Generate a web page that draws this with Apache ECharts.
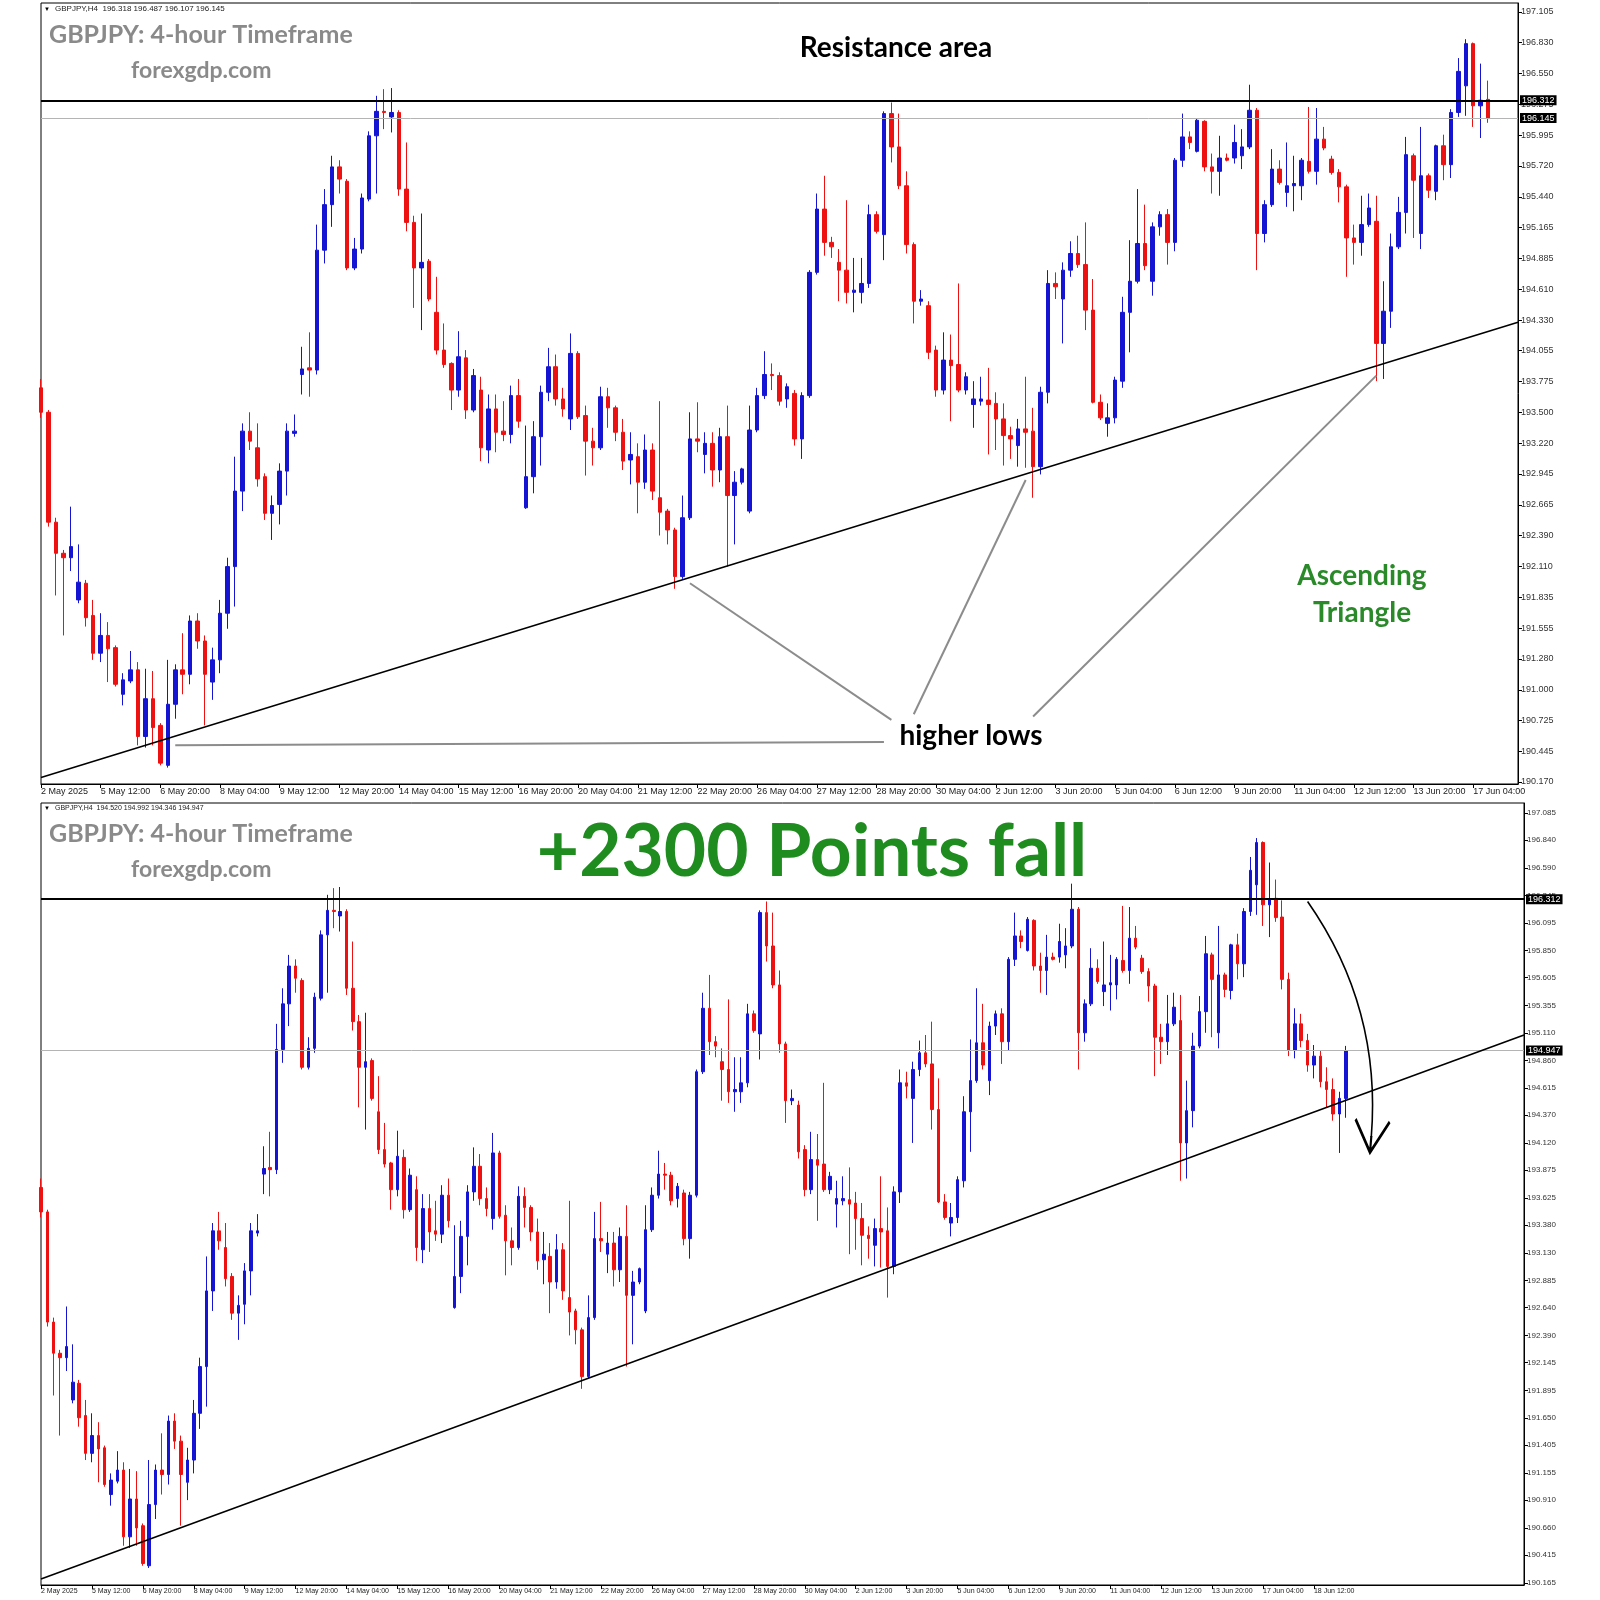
<!DOCTYPE html>
<html><head><meta charset="utf-8">
<script src="https://cdn.jsdelivr.net/npm/echarts@6/dist/echarts.min.js"></script>
<style>html,body{margin:0;padding:0;background:#fff}#c{width:1600px;height:1600px}</style>
</head><body><div id="c"></div>
<script>
// ---- GBPJPY H4 candles (index 0 = 2 May 2025) ----
const opens = [
193.72,193.50,192.51,192.23,192.19,191.81,191.96,191.67,191.33,191.49,
191.38,190.96,191.08,191.18,190.58,190.92,190.68,190.32,190.87,191.18,
191.14,191.62,191.44,191.07,191.27,191.69,192.11,192.79,193.33,193.18,
192.92,192.59,192.67,192.97,193.31,193.84,193.90,193.88,194.96,195.37,
195.71,195.58,194.80,194.97,195.42,195.99,196.21,196.16,196.20,195.51,
195.21,194.80,194.86,194.40,194.06,193.94,193.70,193.99,193.52,193.70,
193.16,193.53,193.33,193.30,193.65,192.64,192.92,193.28,193.68,193.91,
193.62,193.44,194.03,193.47,193.24,193.18,193.64,193.54,193.32,193.07,
193.10,192.87,193.16,192.73,192.61,192.44,192.02,192.55,193.26,193.12,
193.22,192.98,193.28,192.75,192.87,192.61,193.34,193.65,193.84,193.83,
193.62,193.67,193.26,193.65,194.76,195.33,195.03,194.85,194.78,194.58,
194.58,194.66,195.28,195.10,196.19,195.89,195.54,195.01,194.50,194.46,
194.06,193.70,193.97,193.93,193.70,193.57,193.60,193.61,193.58,193.44,
193.29,193.20,193.35,193.33,193.01,193.68,194.66,194.52,194.78,194.93,
194.83,194.42,193.59,193.40,193.45,193.78,194.40,194.68,195.02,194.68,
195.17,195.28,195.03,195.77,195.98,195.85,196.12,195.71,195.67,195.79,
195.79,195.81,195.89,196.22,195.11,195.37,195.69,195.48,195.54,195.54,
195.76,195.67,195.96,195.78,195.66,195.53,195.07,195.03,195.19,195.22,
194.12,194.41,194.99,195.30,195.81,195.11,195.63,195.49,195.90,195.73,
196.20,196.44,196.82,196.26,196.318,196.15,195.59,194.95,195.19,195.04,
194.82,194.90,194.67,194.60,194.38,194.520];
const closes = [
193.50,192.51,192.23,192.19,192.29,191.97,191.65,191.33,191.49,191.37,
191.05,191.09,191.18,190.58,190.92,190.66,190.34,190.87,191.18,191.14,
191.62,191.44,191.14,191.27,191.69,192.11,192.79,193.33,193.24,192.90,
192.59,192.66,192.97,193.33,193.33,193.89,193.88,194.96,195.37,195.71,
195.60,194.80,194.97,195.43,195.99,196.21,196.20,196.20,195.51,195.21,
194.80,194.85,194.52,194.06,193.93,193.70,194.00,193.52,193.83,193.18,
193.53,193.32,193.30,193.65,193.42,192.92,193.28,193.68,193.91,193.62,
193.53,194.03,193.46,193.24,193.18,193.64,193.54,193.32,193.06,193.12,
192.87,193.16,192.79,192.60,192.44,192.02,192.55,193.26,193.24,193.22,
192.98,193.28,192.75,192.87,192.99,193.34,193.65,193.84,193.83,193.60,
193.73,193.26,193.65,194.76,195.33,195.03,194.99,194.78,194.58,194.60,
194.66,195.28,195.13,196.19,195.89,195.54,195.01,194.50,194.52,194.04,
193.70,193.97,193.92,193.70,193.82,193.62,193.62,193.57,193.44,193.29,
193.26,193.35,193.32,193.01,193.68,194.66,194.63,194.78,194.93,194.83,
194.42,193.59,193.45,193.45,193.79,194.40,194.68,195.02,194.82,195.17,
195.28,195.03,195.77,195.98,195.93,196.13,195.71,195.67,195.79,195.77,
195.93,195.89,196.22,195.11,195.37,195.69,195.57,195.54,195.56,195.77,
195.67,195.96,195.88,195.66,195.53,195.07,195.03,195.19,195.34,194.12,
194.41,194.99,195.30,195.82,195.59,195.63,195.50,195.90,195.73,196.20,
196.57,196.82,196.26,196.31,196.145,195.59,194.95,195.19,195.04,194.82,
194.90,194.67,194.60,194.38,194.52,194.947];
const lows = [
193.45,192.47,191.85,191.49,192.07,191.78,191.57,191.27,191.25,191.07,
191.03,190.86,191.06,190.50,190.48,190.50,190.32,190.30,190.74,190.96,
191.05,191.37,190.68,190.91,191.15,191.55,191.75,192.61,193.16,192.83,
192.53,192.35,192.49,192.75,193.28,193.66,193.64,193.84,194.84,195.17,
195.47,194.78,194.78,194.93,195.40,195.47,196.05,196.02,195.45,195.13,
194.44,194.24,194.50,194.02,193.90,193.52,193.64,193.44,193.50,193.06,
193.04,193.14,193.24,193.22,193.36,192.63,192.77,193.02,193.60,193.56,
193.46,193.34,193.44,192.93,193.02,193.16,193.36,193.24,192.98,192.85,
192.59,192.81,192.71,192.39,192.31,191.91,192.00,192.53,193.14,192.95,
192.83,192.87,192.11,192.31,192.85,192.59,193.32,193.62,193.70,193.56,
193.54,193.20,193.08,193.63,194.74,194.91,194.89,194.50,194.48,194.40,
194.48,194.62,195.11,194.87,195.75,195.51,194.93,194.30,194.46,193.98,
193.64,193.66,193.42,193.68,193.66,193.36,193.56,193.12,193.16,193.02,
193.08,193.01,193.00,192.73,192.94,193.58,194.52,194.12,194.72,194.80,
194.24,193.58,193.43,193.28,193.40,193.72,194.04,194.66,194.78,194.55,
195.09,194.83,194.95,195.71,195.87,195.84,195.67,195.47,195.45,195.76,
195.74,195.69,195.87,194.78,195.03,195.35,195.55,195.35,195.31,195.41,
195.65,195.55,195.86,195.64,195.39,194.72,194.83,194.91,195.17,193.78,
193.80,194.26,194.97,195.11,195.07,194.97,195.43,195.41,195.59,195.61,
196.16,196.17,196.07,195.97,196.107,195.50,194.90,194.88,194.98,194.76,
194.70,194.62,194.44,194.32,194.03,194.346];
const highs = [
193.80,193.52,192.55,192.26,192.65,192.31,191.99,191.81,191.69,191.61,
191.40,191.15,191.35,191.25,191.19,191.17,190.70,191.27,191.23,191.51,
191.67,191.69,191.49,191.38,191.81,192.19,193.10,193.40,193.50,193.40,
192.95,192.75,193.04,193.40,193.48,194.09,194.22,195.19,195.51,195.81,
195.77,195.60,195.07,195.47,196.03,196.35,196.41,196.42,196.22,195.93,
195.27,195.29,194.88,194.72,194.30,193.95,194.23,194.06,193.89,193.82,
193.66,193.66,193.60,193.74,193.80,193.38,193.42,193.74,194.08,194.02,
193.72,194.21,194.05,193.56,193.36,193.73,193.72,193.56,193.44,193.32,
193.22,193.30,193.22,193.60,192.63,192.46,192.75,193.50,193.59,193.32,
193.32,193.36,193.56,192.97,193.00,193.56,193.72,194.05,193.94,193.86,
193.76,193.70,193.68,194.78,195.47,195.63,195.08,194.97,195.41,194.89,
194.89,195.37,195.31,196.21,196.29,196.19,195.67,195.03,194.60,194.50,
194.10,194.22,194.20,194.66,193.86,193.78,193.82,193.90,193.68,193.58,
193.37,193.44,193.82,193.54,193.73,194.78,194.76,194.85,195.04,195.09,
195.21,194.70,193.66,193.58,193.82,194.54,195.05,195.51,195.37,195.21,
195.31,195.33,195.79,196.19,196.03,196.15,196.13,195.83,195.99,195.83,
196.09,196.05,196.45,196.24,195.41,195.87,195.77,195.93,195.81,195.79,
196.25,196.24,196.07,195.81,195.69,195.55,195.19,195.45,195.47,195.45,
194.68,195.11,195.44,195.98,195.83,196.07,195.65,195.91,196.00,196.23,
196.69,196.86,196.83,196.64,196.487,196.30,195.65,195.33,195.28,195.10,
195.00,194.95,194.80,194.70,194.58,194.992];
const topCount = 195;      // candles visible in the upper snapshot
const topSlots = 199;      // bar slots on upper time axis
const bottomSlots = 234;   // bar slots on lower time axis

const xLabelsTop = ['2 May 2025','5 May 12:00','6 May 20:00','8 May 04:00','9 May 12:00','12 May 20:00','14 May 04:00','15 May 12:00','16 May 20:00','20 May 04:00','21 May 12:00','22 May 20:00','26 May 04:00','27 May 12:00','28 May 20:00','30 May 04:00','2 Jun 12:00','3 Jun 20:00','5 Jun 04:00','6 Jun 12:00','9 Jun 20:00','11 Jun 04:00','12 Jun 12:00','13 Jun 20:00','17 Jun 04:00'];
const xLabelsBottom = xLabelsTop.concat(['18 Jun 12:00']);
const yTicksTop = ['197.105','196.830','196.550','196.275','195.995','195.720','195.440','195.165','194.885','194.610','194.330','194.055','193.775','193.500','193.220','192.945','192.665','192.390','192.110','191.835','191.555','191.280','191.000','190.725','190.445','190.170'];
const yTicksBottom = ['197.085','196.840','196.590','196.345','196.095','195.850','195.605','195.355','195.110','194.860','194.615','194.370','194.120','193.875','193.625','193.380','193.130','192.885','192.640','192.390','192.145','191.895','191.650','191.405','191.155','190.910','190.660','190.415','190.165'];

const resistance = 196.312;
const topBid = 196.145;
const bottomBid = 194.947;
const trendTop = [[0, 190.21], [198, 194.31]];
const trendBottom = [[0, 190.20], [233, 195.09]];
const higherLowPointers = [
  [[18, 190.50], [113, 190.53]],
  [[114, 190.73], [87, 191.96]],
  [[117, 190.78], [132, 192.89]],
  [[133, 190.76], [179, 193.83]]
];
const fallArrow = [[199, 196.29], [209, 194.17]];

// ---------------------------------------------------
const BULL = '#1414d2', BEAR = '#ee1111';
const fmt = v => v.toFixed(3);
const rows = opens.map((o, i) => [o, closes[i], lows[i], highs[i]]);

function makeX(gridIndex, n, labels, fontSize) {
  const show = i => i % 8 === 0 && i / 8 < labels.length;
  return {
    type: 'category', gridIndex, boundaryGap: false,
    data: Array.from({length: n}, (_, i) => String(i)),
    axisLine: {lineStyle: {color: '#000', width: 1}},
    axisTick: {show: true, interval: i => show(i), length: 4, lineStyle: {color: '#000'}},
    axisLabel: {interval: i => show(i), formatter: (v, i) => labels[i / 8], align: 'left',
      fontSize, color: '#222', margin: 3, fontFamily: 'Liberation Sans'},
    splitLine: {show: false}
  };
}
function makeY(gridIndex, min, max, ticks, fontSize) {
  const vals = ticks.map(Number);
  return {
    type: 'value', gridIndex, position: 'right', min, max,
    axisLine: {show: true, lineStyle: {color: '#000'}},
    axisTick: {show: true, length: 4, customValues: vals, lineStyle: {color: '#000'}},
    axisLabel: {customValues: vals, formatter: fmt, fontSize, color: '#333', margin: 3, fontFamily: 'Liberation Sans'},
    splitLine: {show: false}
  };
}
function hLine(v, color, width) {
  return {yAxis: v, lineStyle: {color, width, type: 'solid'},
    label: {show: true, position: 'end', formatter: fmt(v), backgroundColor: '#000', color: '#fff',
      fontSize: 9, padding: [1, 2, 0, 2], distance: 2, fontFamily: 'Liberation Sans'}};
}
function seg(a, b, color, width) {
  return [{coord: a, symbol: 'none', lineStyle: {color, width, type: 'solid'}, label: {show: false}},
          {coord: b, symbol: 'none'}];
}

const chart = echarts.init(document.getElementById('c'), null, {renderer: 'canvas'});
const titleGray = '#8a8a8a';
const tO = topCount - 1, bO = opens.length - 1;
// open V arrow head with a stem reaching the symbol centre
const arrowHead = 'path://M10,0 L20,15 L19,16 L10,2.6 L1,16 L0,15 Z M9.4,1 L10.6,1 L10.6,8.6 L9.4,8.6 Z';

chart.setOption({
  animation: false,
  backgroundColor: '#fff',
  grid: [
    {left: 41, top: 3, width: 1477, height: 781, show: true, borderColor: '#000', borderWidth: 1},
    {left: 41, top: 803, width: 1483, height: 782, show: true, borderColor: '#000', borderWidth: 1}
  ],
  xAxis: [makeX(0, topSlots, xLabelsTop, 9), makeX(1, bottomSlots, xLabelsBottom, 7)],
  yAxis: [makeY(0, 190.152, 197.186, yTicksTop, 9), makeY(1, 190.147, 197.175, yTicksBottom, 8)],
  series: [
    {
      type: 'candlestick', xAxisIndex: 0, yAxisIndex: 0, barWidth: 4,
      data: rows.slice(0, topCount),
      itemStyle: {color: BULL, color0: BEAR, borderColor: BULL, borderColor0: BEAR, borderWidth: 1},
      markLine: {
        silent: true, symbol: 'none', animation: false, label: {show: false},
        data: [
          hLine(topBid, '#b4b4b4', 1),
          hLine(resistance, '#000', 2),
          seg(trendTop[0], trendTop[1], '#000', 1.6)
        ].concat(higherLowPointers.map(p => seg(p[0], p[1], '#8c8c8c', 2)))
      }
    },
    {
      type: 'candlestick', xAxisIndex: 1, yAxisIndex: 1, barWidth: 3,
      data: rows,
      itemStyle: {color: BULL, color0: BEAR, borderColor: BULL, borderColor0: BEAR, borderWidth: 1},
      markLine: {
        silent: true, symbol: 'none', animation: false, label: {show: false},
        data: [
          hLine(bottomBid, '#b4b4b4', 1),
          hLine(resistance, '#000', 2),
          seg(trendBottom[0], trendBottom[1], '#000', 1.6)
        ]
      }
    },
    {
      // curved "fall" arrow
      type: 'lines', coordinateSystem: 'cartesian2d', xAxisIndex: 1, yAxisIndex: 1,
      silent: true, zlevel: 0, z: 5,
      symbol: ['none', arrowHead], symbolSize: [36, 36],
      lineStyle: {color: '#000', width: 1.6, type: 'solid', curveness: 0.18, opacity: 1},
      data: [{coords: fallArrow}]
    }
  ],
  graphic: [
    {type: 'text', x: 44, y: 9, style: {text: '▼', fontSize: 6, fill: '#000', textVerticalAlign: 'middle'}},
    {type: 'text', x: 55, y: 9, style: {text: 'GBPJPY,H4  ' + [opens[tO], highs[tO], lows[tO], closes[tO]].map(fmt).join(' '),
      font: '8px "Liberation Sans"', fill: '#222', textVerticalAlign: 'middle'}},
    {type: 'text', x: 49, y: 35, style: {text: 'GBPJPY: 4-hour Timeframe', font: 'bold 25px Lato', fill: titleGray, textVerticalAlign: 'middle'}},
    {type: 'text', x: 131, y: 71, style: {text: 'forexgdp.com', font: 'bold 23px Lato', fill: titleGray, textVerticalAlign: 'middle'}},
    {type: 'text', x: 896, y: 48, style: {text: 'Resistance area', font: 'bold 28px Lato', fill: '#000', textAlign: 'center', textVerticalAlign: 'middle'}},
    {type: 'text', x: 1362, y: 576, style: {text: 'Ascending', font: 'bold 28px Lato', fill: '#2a8a2a', textAlign: 'center', textVerticalAlign: 'middle'}},
    {type: 'text', x: 1362, y: 613, style: {text: 'Triangle', font: 'bold 28px Lato', fill: '#2a8a2a', textAlign: 'center', textVerticalAlign: 'middle'}},
    {type: 'text', x: 971, y: 736, style: {text: 'higher lows', font: 'bold 28px Lato', fill: '#000', textAlign: 'center', textVerticalAlign: 'middle'}},

    {type: 'text', x: 44, y: 808, style: {text: '▼', fontSize: 6, fill: '#000', textVerticalAlign: 'middle'}},
    {type: 'text', x: 55, y: 808, style: {text: 'GBPJPY,H4  ' + [opens[bO], highs[bO], lows[bO], closes[bO]].map(fmt).join(' '),
      font: '7px "Liberation Sans"', fill: '#222', textVerticalAlign: 'middle'}},
    {type: 'text', x: 49, y: 834, style: {text: 'GBPJPY: 4-hour Timeframe', font: 'bold 25px Lato', fill: titleGray, textVerticalAlign: 'middle'}},
    {type: 'text', x: 131, y: 870, style: {text: 'forexgdp.com', font: 'bold 23px Lato', fill: titleGray, textVerticalAlign: 'middle'}},
    {type: 'text', x: 812, y: 852, style: {text: '+2300 Points fall', font: 'bold 73px Lato', fill: '#1f8c1f', textAlign: 'center', textVerticalAlign: 'middle'}}
  ]
});
</script></body></html>
